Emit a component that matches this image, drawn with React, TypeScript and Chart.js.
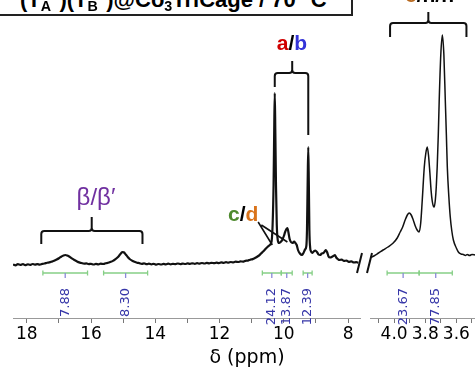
import React, { useEffect, useRef } from 'react';
import { Chart, registerables } from 'chart.js';
Chart.register(...registerables);

// ---- spectrum data (chemical shift in ppm, relative intensity) ----
const leftPpm = [
  18.43, 18.35, 18.28, 18.2, 18.12, 18.05, 17.97, 17.9, 17.82, 17.75, 17.67, 17.6, 17.52, 17.45, 17.37, 17.3,
  17.22, 17.15, 17.07, 17.0, 16.93, 16.86, 16.8, 16.74, 16.67, 16.6, 16.52, 16.45, 16.37, 16.3, 16.22, 16.15,
  16.07, 16.0, 15.92, 15.85, 15.77, 15.7, 15.62, 15.55, 15.47, 15.4, 15.32, 15.25, 15.17, 15.1, 15.03, 14.98,
  14.92, 14.86, 14.8, 14.72, 14.65, 14.57, 14.5, 14.42, 14.35, 14.27, 14.2, 14.12, 14.05, 13.97, 13.9, 13.82,
  13.75, 13.67, 13.6, 13.52, 13.45, 13.37, 13.3, 13.22, 13.15, 13.07, 13.0, 12.92, 12.85, 12.77, 12.7, 12.62,
  12.55, 12.47, 12.4, 12.32, 12.25, 12.17, 12.1, 12.02, 11.95, 11.87, 11.8, 11.72, 11.65, 11.57, 11.5, 11.42,
  11.35, 11.27, 11.2, 11.12, 11.05, 10.97, 10.9, 10.82, 10.75, 10.68, 10.62, 10.55, 10.48, 10.42, 10.38, 10.35,
  10.32, 10.3, 10.283, 10.266, 10.245, 10.22, 10.19, 10.15, 10.1, 10.05, 10.0, 9.96, 9.92, 9.89, 9.86, 9.82,
  9.78, 9.73, 9.68, 9.64, 9.6, 9.56, 9.5, 9.44, 9.39, 9.34, 9.3, 9.28, 9.26, 9.24, 9.222, 9.205,
  9.18, 9.16, 9.12, 9.07, 9.02, 8.97, 8.92, 8.87, 8.82, 8.77, 8.73, 8.69, 8.65, 8.61, 8.56, 8.5,
  8.45, 8.41, 8.37, 8.32, 8.27, 8.2, 8.13, 8.05, 7.98, 7.9, 7.82, 7.75, 7.68,
];
const leftIntensity = [
  0.5, -0.3, 0.8, 0.1, 0.9, -0.2, 0.7, 0.2, 1.0, 0.3, 0.9, 0.4, 1.1, 1.5, 2.3, 2.6,
  3.4, 4.2, 5.5, 6.8, 8.3, 9.6, 10, 9.4, 8.2, 6.6, 5.0, 3.8, 2.6, 2.0, 1.3, 1.6,
  0.9, 1.2, 0.5, 1.1, 0.6, 1.3, 1.0, 1.7, 2.2, 3.0, 4.1, 5.6, 7.8, 10.4, 12.8, 12.6,
  10.5, 8.0, 6.0, 4.3, 3.2, 2.3, 1.9, 1.2, 1.6, 0.8, 1.3, 0.6, 1.2, 0.4, 1.0, 0.5,
  1.1, 0.6, 1.3, 0.7, 1.2, 0.8, 1.5, 0.9, 1.4, 1.0, 1.6, 1.1, 1.7, 1.2, 1.8, 1.3,
  2.0, 1.5, 2.1, 1.6, 2.2, 1.8, 2.4, 1.9, 2.6, 2.1, 2.8, 2.3, 3.0, 2.6, 3.3, 3.0,
  3.6, 3.4, 4.2, 4.4, 5.3, 5.9, 7.0, 8.5, 10.2, 12.4, 14.3, 16.8, 18.9, 20.6, 24, 40,
  80, 135, 172, 135, 80, 40, 25, 22, 23, 25, 29, 33, 36, 37, 33, 26,
  23, 22, 23.5, 22, 20, 15, 11.5, 10, 12, 15.5, 19, 35, 80, 118, 80, 35,
  17, 14, 12, 13.5, 14.5, 13, 10.5, 10, 11.5, 12, 13.5, 15, 12.5, 8.5, 7.5, 8.2,
  9.2, 10, 7.5, 6, 5, 5.4, 4.1, 4.4, 3.2, 3.6, 2.5, 2.8, 2.2,
];
const rightPpm = [
  4.155, 4.13, 4.1, 4.071, 4.04, 4.006, 3.98, 3.961, 3.945, 3.929, 3.915, 3.903, 3.89, 3.877, 3.864, 3.852,
  3.839, 3.829, 3.819, 3.806, 3.796, 3.787, 3.779, 3.77, 3.762, 3.755, 3.748, 3.742, 3.735, 3.729, 3.723, 3.716,
  3.71, 3.7, 3.69, 3.68, 3.671, 3.664, 3.658, 3.648, 3.639, 3.629, 3.619, 3.6, 3.587, 3.57, 3.555, 3.542,
  3.53, 3.515, 3.5, 3.477,
];
const rightIntensity = [
  7, 9, 12, 15, 18, 22, 27, 33, 38, 45, 50, 52, 50, 45, 39, 35,
  33, 42, 65, 98, 112, 118, 110, 92, 74, 64, 59, 58, 65, 78, 98, 130,
  165, 210, 230, 210, 165, 130, 98, 68, 48, 34, 25, 17, 13, 11, 10.5, 9.5,
  10.5, 9.5, 10.5, 10,
];

// ---- axes ----
const leftRange = [7.63, 18.43];
const rightRange = [3.48, 4.155];
const leftTicks = [8, 9, 10, 11, 12, 13, 14, 15, 16, 17, 18];
const leftTickLabels = [8, 10, 12, 14, 16, 18];
const rightTicks = [3.5, 3.6, 3.7, 3.8, 3.9, 4.0, 4.1];
const rightTickLabels = [3.6, 3.8, 4.0];
const axisTitle = 'δ (ppm)';

// ---- integrals ----
const leftIntegralFrom = [17.5, 15.61, 10.67, 10.08, 9.4];
const leftIntegralTo = [16.11, 14.24, 10.08, 9.74, 9.12];
const leftIntegralValues = ['7.88', '8.30', '24.12', '13.87', '12.39'];
const rightIntegralFrom = [4.045, 3.839];
const rightIntegralTo = [3.839, 3.626];
const rightIntegralValues = ['23.67', '77.85'];

const BASE_Y = 265; // pixel row of the spectrum baseline (intensity 0)
const AXIS_Y = 318; // pixel row of the x axis

type Ctx = CanvasRenderingContext2D;

function drawIntegrals(chart: any, from: number[], to: number[], vals: string[]) {
  const ctx: Ctx = chart.ctx;
  const xs = chart.scales.x;
  const y = 273;
  ctx.save();
  for (let i = 0; i < from.length; i++) {
    const x1 = xs.getPixelForValue(from[i]);
    const x2 = xs.getPixelForValue(to[i]);
    const xm = (x1 + x2) / 2;
    ctx.strokeStyle = '#86cf86';
    ctx.lineWidth = 1.3;
    ctx.beginPath();
    ctx.moveTo(x1, y); ctx.lineTo(x2, y);
    ctx.moveTo(x1, y - 2.5); ctx.lineTo(x1, y + 2.5);
    ctx.moveTo(x2, y - 2.5); ctx.lineTo(x2, y + 2.5);
    ctx.stroke();
    ctx.strokeStyle = '#8a8ad8';
    ctx.beginPath();
    ctx.moveTo(xm, y); ctx.lineTo(xm, y + 5);
    ctx.stroke();
    ctx.save();
    ctx.translate(xm, 288);
    ctx.rotate(-Math.PI / 2);
    ctx.fillStyle = '#3636a8';
    ctx.font = '13px "DejaVu Sans"';
    ctx.textAlign = 'right';
    ctx.textBaseline = 'middle';
    ctx.fillText(vals[i], 0, 0);
    ctx.restore();
  }
  ctx.restore();
}

function bracket(ctx: Ctx, xl: number, xr: number, y: number, armL: number, armR: number, stubTop: number, xc: number) {
  const r = 3;
  ctx.beginPath();
  ctx.moveTo(xl, armL);
  ctx.lineTo(xl, y + r);
  ctx.quadraticCurveTo(xl, y, xl + r, y);
  ctx.lineTo(xc - r, y);
  ctx.quadraticCurveTo(xc, y, xc, y - r);
  ctx.lineTo(xc, stubTop);
  ctx.moveTo(xc, y - r);
  ctx.quadraticCurveTo(xc, y, xc + r, y);
  ctx.lineTo(xr - r, y);
  ctx.quadraticCurveTo(xr, y, xr, y + r);
  ctx.lineTo(xr, armR);
  ctx.stroke();
}

function drawLeftAnnotations(chart: any) {
  const ctx: Ctx = chart.ctx;
  const xs = chart.scales.x;
  const px = (v: number) => xs.getPixelForValue(v);
  ctx.save();
  ctx.strokeStyle = '#111';
  ctx.lineWidth = 2;
  ctx.lineCap = 'butt';
  // beta bracket
  bracket(ctx, px(17.55), px(14.4), 231, 244, 244, 217, px(15.98));
  // a/b bracket
  bracket(ctx, px(10.283), px(9.24), 73, 87, 135, 61, px(9.74));
  // c/d pointers
  ctx.lineWidth = 1.6;
  ctx.beginPath();
  ctx.moveTo(px(10.8), 222); ctx.lineTo(px(10.36), 245);
  ctx.moveTo(px(10.7), 225); ctx.lineTo(px(9.89), 242);
  ctx.stroke();
  // axis break marks
  ctx.lineWidth = 2;
  ctx.beginPath();
  ctx.moveTo(362, 253); ctx.lineTo(357, 273);
  ctx.moveTo(372, 253); ctx.lineTo(367, 273);
  ctx.stroke();
  ctx.restore();
  drawIntegrals(chart, leftIntegralFrom, leftIntegralTo, leftIntegralValues);
}

function drawRightAnnotations(chart: any) {
  const ctx: Ctx = chart.ctx;
  const xs = chart.scales.x;
  const px = (v: number) => xs.getPixelForValue(v);
  ctx.save();
  ctx.strokeStyle = '#111';
  ctx.lineWidth = 2;
  bracket(ctx, px(4.026), px(3.535), 23, 37, 37, 12, px(3.78));
  ctx.restore();
  drawIntegrals(chart, rightIntegralFrom, rightIntegralTo, rightIntegralValues);
}

function makeChart(
  canvas: HTMLCanvasElement,
  ppm: number[], inten: number[], range: number[], ticks: number[], labels: number[],
  padLeft: number, padRight: number, lineWidth: number, draw: (c: any) => void,
) {
  const data = ppm.map((p, i) => ({ x: p, y: inten[i] }));
  return new Chart(canvas, {
    type: 'line',
    data: {
      datasets: [{
        data,
        borderColor: '#111',
        borderWidth: lineWidth,
        pointRadius: 0,
        fill: false,
        cubicInterpolationMode: 'monotone',
      }],
    },
    options: {
      animation: false,
      responsive: false,
      maintainAspectRatio: false,
      layout: { padding: { left: padLeft, right: padRight, top: 0, bottom: 0 } },
      plugins: { legend: { display: false }, tooltip: { enabled: false } },
      scales: {
        x: {
          type: 'linear',
          reverse: true,
          min: range[0],
          max: range[1],
          afterBuildTicks: (s: any) => { s.ticks = ticks.map((v) => ({ value: v })); },
          afterFit: (s: any) => { s.height = 371 - AXIS_Y; },
          grid: { display: true, drawOnChartArea: false, drawTicks: true, tickLength: 5, tickColor: '#777' },
          border: { display: true, color: '#999', width: 1 },
          ticks: {
            autoSkip: false,
            maxRotation: 0,
            padding: 1,
            color: '#000',
            font: { family: 'DejaVu Sans', size: 17 },
            callback: (v: any) => {
              const n = Number(v);
              const hit = labels.find((l) => Math.abs(l - n) < 1e-6);
              if (hit === undefined) return '';
              return Number.isInteger(hit) && range[1] > 10 ? String(hit) : hit.toFixed(1);
            },
          },
        },
        y: { display: false, min: -(AXIS_Y - BASE_Y), max: BASE_Y },
      },
    },
    plugins: [{ id: 'annot', afterDatasetsDraw: (c: any) => draw(c) }],
  } as any);
}

function Label(props: { x: number; baseline: number; size: number; bold?: boolean; center?: boolean; family?: string; children: any }) {
  const { x, baseline, size, bold, center, family, children } = props;
  return (
    <div style={{
      position: 'absolute', left: x, top: baseline - 0.846 * size, lineHeight: size + 'px', height: size, fontSize: size,
      fontWeight: bold ? 'bold' : 'normal', fontFamily: family || '"Liberation Sans", Arial, sans-serif',
      whiteSpace: 'nowrap', transform: center ? 'translateX(-50%)' : undefined,
    }}>{children}</div>
  );
}

const subStyle = { fontSize: '0.65em', position: 'relative' as const, top: '0.28em', lineHeight: 0 };
const supStyle = { fontSize: '0.65em', position: 'relative' as const, top: '-0.5em', lineHeight: 0 };

export default function App() {
  const leftRef = useRef<HTMLCanvasElement>(null);
  const rightRef = useRef<HTMLCanvasElement>(null);
  useEffect(() => {
    const l = makeChart(leftRef.current!, leftPpm, leftIntensity, leftRange, leftTicks, leftTickLabels, 13, 15, 2.2, drawLeftAnnotations);
    const r = makeChart(rightRef.current!, rightPpm, rightIntensity, rightRange, rightTicks, rightTickLabels, 6, 0, 1.5, drawRightAnnotations);
    return () => { l.destroy(); r.destroy(); };
  }, []);
  return (
    <div style={{ position: 'absolute', left: 0, top: 0, width: 475, height: 371, overflow: 'hidden', background: '#fff' }}>
      <canvas ref={leftRef} width={375} height={371} style={{ position: 'absolute', left: 0, top: 0, width: 375, height: 371 }} />
      <canvas ref={rightRef} width={111} height={371} style={{ position: 'absolute', left: 364, top: 0, width: 111, height: 371 }} />
      <div style={{ position: 'absolute', left: -10, top: -20, width: 363, height: 36, boxSizing: 'border-box', border: '2px solid #222', background: '#fff' }} />
      <Label x={20} baseline={8} size={22} bold>
        (T<span style={subStyle}>A</span><span style={supStyle}>−</span>)(T<span style={subStyle}>B</span><span style={supStyle}>−</span>)@Co<span style={subStyle}>3</span>TriCage / 70 °C
      </Label>
      <Label x={405} baseline={2} size={21} bold>
        <span style={{ color: '#b8691f' }}>e</span>/h/h
      </Label>
      <Label x={292} baseline={50} size={21} bold center>
        <span style={{ color: '#d00000' }}>a</span>/<span style={{ color: '#3434d8' }}>b</span>
      </Label>
      <Label x={96} baseline={205} size={24} center>
        <span style={{ color: '#7030a0' }}>β/β′</span>
      </Label>
      <Label x={228} baseline={221} size={21} bold>
        <span style={{ color: '#4e8a2e' }}>c</span>/<span style={{ color: '#d9731a' }}>d</span>
      </Label>
      <Label x={247} baseline={363} size={19} center family='"DejaVu Sans", sans-serif'>
        {axisTitle}
      </Label>
    </div>
  );
}
